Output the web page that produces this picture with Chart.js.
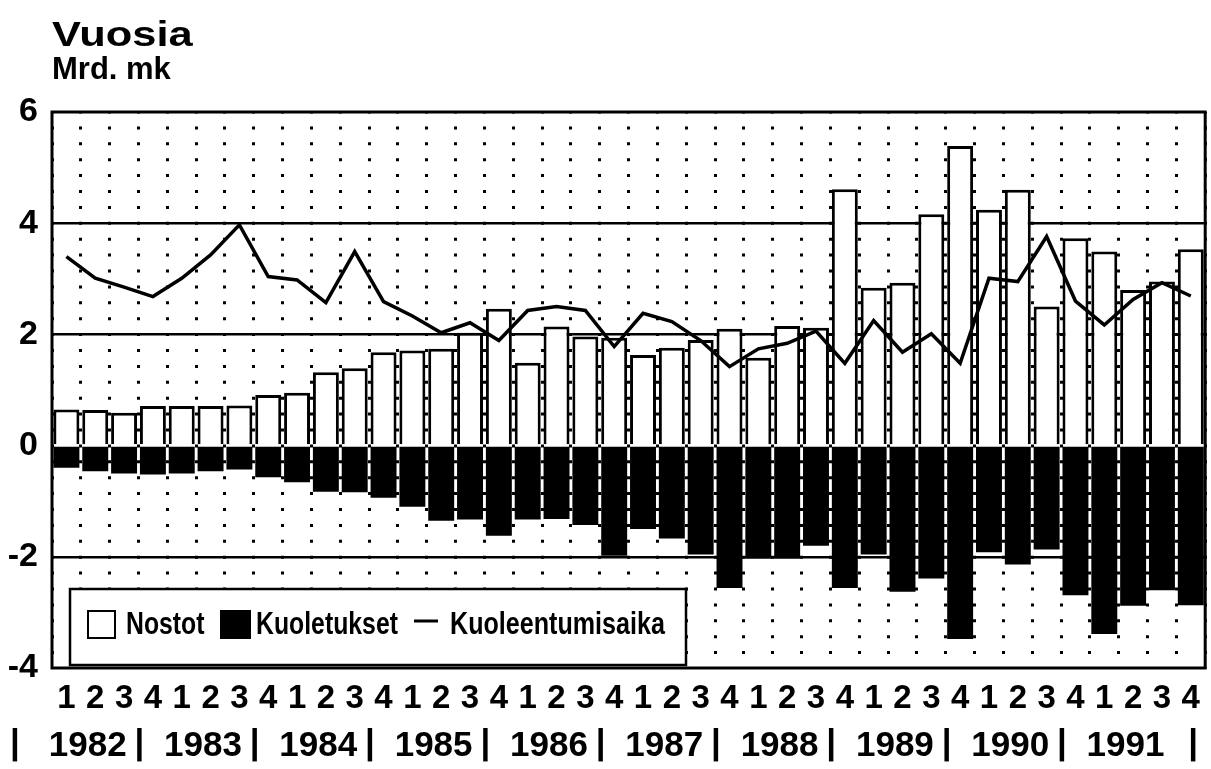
<!DOCTYPE html>
<html>
<head>
<meta charset="utf-8">
<title>Nostot ja kuoletukset</title>
<script src="https://cdn.jsdelivr.net/npm/chart.js@4/dist/chart.umd.min.js"></script>
<style>
  html, body { margin: 0; padding: 0; background: #fff; }
  #wrap { width: 1211px; height: 769px; }
</style>
</head>
<body>
<div id="wrap"><canvas id="lainaChart" width="1211" height="769"></canvas></div>
<script>
// quarters 1982-1991
const quarterLabels = [
  '1','2','3','4', '1','2','3','4', '1','2','3','4', '1','2','3','4', '1','2','3','4',
  '1','2','3','4', '1','2','3','4', '1','2','3','4', '1','2','3','4', '1','2','3','4'
];
const years = ['1982','1983','1984','1985','1986','1987','1988','1989','1990','1991'];

// Mrd. mk
const nostot = [
  0.65, 0.64, 0.59, 0.71, 0.71, 0.71, 0.72, 0.91, 0.95, 1.32,
  1.39, 1.68, 1.71, 1.74, 2.03, 2.46, 1.49, 2.14, 1.96, 1.94,
  1.63, 1.76, 1.90, 2.10, 1.58, 2.15, 2.12, 4.61, 2.84, 2.93,
  4.16, 5.39, 4.24, 4.60, 2.50, 3.73, 3.49, 2.80, 2.95, 3.53
];
const kuoletukset = [
  -0.40, -0.46, -0.50, -0.52, -0.50, -0.46, -0.43, -0.57, -0.66, -0.83,
  -0.84, -0.94, -1.10, -1.35, -1.33, -1.62, -1.33, -1.32, -1.43, -1.98,
  -1.50, -1.67, -1.96, -2.56, -2.03, -2.03, -1.80, -2.56, -1.96, -2.63,
  -2.39, -3.48, -1.92, -2.14, -1.87, -2.69, -3.39, -2.88, -2.60, -2.87
];
// vuosia
const kuoleentumisaika = [
  3.40, 3.01, 2.85, 2.68, 3.01, 3.43, 3.97, 3.04, 2.98, 2.57,
  3.49, 2.59, 2.33, 2.03, 2.21, 1.89, 2.43, 2.50, 2.43, 1.78,
  2.38, 2.23, 1.89, 1.42, 1.74, 1.84, 2.06, 1.48, 2.25, 1.68,
  2.01, 1.48, 3.01, 2.95, 3.76, 2.60, 2.17, 2.63, 2.93, 2.69
];

const FONT = "'Liberation Sans', Arial, sans-serif";

// titles, frame, year row and the boxed legend
const decorations = {
  id: 'decorations',
  beforeDraw(chart) {
    const ctx = chart.ctx;
    ctx.save();
    ctx.fillStyle = '#fff';
    ctx.fillRect(0, 0, chart.width, chart.height);
    ctx.restore();
  },
  afterDraw(chart) {
    const ctx = chart.ctx;
    const area = chart.chartArea;
    const x = chart.scales.x;

    ctx.save();
    ctx.fillStyle = '#000';
    ctx.textBaseline = 'alphabetic';

    // titles
    ctx.save();
    ctx.translate(52, 46);
    ctx.scale(1.24, 1);
    ctx.font = 'bold 35px ' + FONT;
    ctx.fillText('Vuosia', 0, 0);
    ctx.restore();
    ctx.font = 'bold 31px ' + FONT;
    ctx.fillText('Mrd. mk', 52, 79);

    // frame
    ctx.strokeStyle = '#000';
    ctx.lineWidth = 3;
    ctx.strokeRect(area.left, area.top, area.right - area.left, area.bottom - area.top);

    // year row: | 1982| 1983| ...
    const step = (area.right - area.left) / quarterLabels.length;
    ctx.font = 'bold 35px ' + FONT;
    ctx.textBaseline = 'middle';
    ctx.textAlign = 'center';
    years.forEach((y, i) => {
      const mid = (x.getPixelForValue(i * 4 + 1) + x.getPixelForValue(i * 4 + 2)) / 2;
      ctx.fillText(y, mid - 22, 746);
      const b = x.getPixelForValue(i * 4) - step / 2;
      ctx.fillText('|', i === 0 ? 15 : b - 28, 744);
    });
    ctx.fillText('|', area.right - 12, 744);

    // legend
    const lx = 70, ly = 589, lw = 616, lh = 76;
    ctx.fillStyle = '#fff';
    ctx.fillRect(lx, ly, lw, lh);
    ctx.lineWidth = 2.5;
    ctx.strokeRect(lx, ly, lw, lh);

    const ds = chart.data.datasets;
    const cy = 625;
    ctx.lineWidth = 2;
    ctx.strokeRect(88, 611, 27, 27);
    ctx.fillStyle = '#000';
    ctx.fillRect(220, 610, 31, 29);
    ctx.lineWidth = 3;
    ctx.beginPath();
    ctx.moveTo(414, 621);
    ctx.lineTo(438, 621);
    ctx.stroke();

    ctx.font = 'bold 31px ' + FONT;
    ctx.textAlign = 'left';
    ctx.textBaseline = 'middle';
    [[ds[0].label, 126, 0.8], [ds[1].label, 256, 0.8], [ds[2].label, 450, 0.81]].forEach(([t, tx, sx]) => {
      ctx.save();
      ctx.translate(tx, cy);
      ctx.scale(sx, 1);
      ctx.fillText(t, 0, 0);
      ctx.restore();
    });

    ctx.restore();
  }
};

const ctx = document.getElementById('lainaChart').getContext('2d');

new Chart(ctx, {
  data: {
    labels: quarterLabels,
    datasets: [
      {
        type: 'bar',
        label: 'Nostot',
        data: nostot,
        backgroundColor: '#fff',
        borderColor: '#000',
        borderWidth: 3,
        grouped: false,
        barPercentage: 0.9,
        categoryPercentage: 1.0,
        order: 2
      },
      {
        type: 'bar',
        label: 'Kuoletukset',
        data: kuoletukset,
        backgroundColor: '#000',
        borderWidth: 0,
        grouped: false,
        barPercentage: 0.9,
        categoryPercentage: 1.0,
        order: 1
      },
      {
        type: 'line',
        label: 'Kuoleentumisaika',
        data: kuoleentumisaika,
        borderColor: '#000',
        borderWidth: 3.5,
        pointRadius: 0,
        tension: 0,
        fill: false,
        order: 0
      }
    ]
  },
  options: {
    responsive: false,
    animation: false,
    devicePixelRatio: 1,
    layout: { padding: { top: 112, left: 0, right: 3, bottom: 0 } },
    plugins: {
      legend: { display: false },
      tooltip: { enabled: false }
    },
    scales: {
      x: {
        type: 'category',
        offset: true,
        afterFit: s => { s.height = 101; },
        grid: {
          offset: true,
          color: '#000',
          lineWidth: 3,
          drawTicks: false
        },
        border: { display: false, dash: [3, 12.9], dashOffset: 1.5 },
        ticks: {
          color: '#000',
          font: { family: FONT, size: 33, weight: 'bold' },
          padding: 11,
          maxRotation: 0,
          autoSkip: false
        }
      },
      y: {
        min: -4,
        max: 6,
        afterFit: s => { s.width = 52; },
        grid: {
          color: c => [2, 4, -2].includes(c.tick.value) ? '#000' : 'rgba(0,0,0,0)',
          lineWidth: 2.5,
          drawTicks: false
        },
        border: { display: false },
        ticks: {
          stepSize: 2,
          color: '#000',
          font: { family: FONT, size: 34, weight: 'bold' },
          padding: 14,
          callback: v => String(v)
        }
      }
    }
  },
  plugins: [decorations]
});
</script>
</body>
</html>
